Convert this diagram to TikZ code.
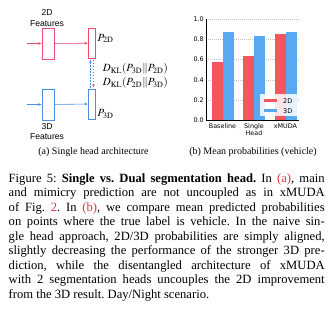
\documentclass[tikz,border=0pt]{standalone}
\usepackage{mathptmx}
\usepackage{fontspec}
\setmainfont{Liberation Serif}
\newfontfamily\diagfont{Liberation Sans}
\newfontfamily\plotfont{DejaVu Sans}
\usepackage{xcolor}
\usetikzlibrary{positioning, arrows.meta}

\definecolor{headRed}{HTML}{EE4B6A}
\definecolor{headBlue}{HTML}{4B8FE0}
\definecolor{barRed}{HTML}{F5555F}
\definecolor{barBlue}{HTML}{58A8F2}
\definecolor{linkRed}{HTML}{E0323F}
\definecolor{gridGray}{HTML}{C4C4C4}

\begin{document}
\begin{tikzpicture}[
  x=1pt, y=-1pt,
  feat/.style={draw, line width=0.7pt, fill=white, minimum width=12pt, minimum height=31pt, inner sep=0pt},
  headbox/.style={draw, line width=0.7pt, fill=white, minimum width=7.4pt, minimum height=30pt, inner sep=0pt},
  flow/.style={-{Latex[length=3.2pt,width=2.8pt]}, line width=0.6pt},
  mimic/.style={-{Latex[length=3pt,width=2.6pt]}, line width=0.6pt, dash pattern=on 1.5pt off 1.5pt, shorten >=1pt, shorten <=1pt},
  featlbl/.style={font=\diagfont\fontsize{8.6}{10.4}\selectfont, align=center, inner sep=0pt},
  mathlbl/.style={font=\fontsize{11}{12}\selectfont, inner sep=0pt},
  subcap/.style={font=\fontsize{10}{12}\selectfont, inner sep=0pt},
  ticklbl/.style={font=\plotfont\fontsize{6.4}{7.4}\selectfont, inner sep=0pt, align=center}
]
  \useasboundingbox (0,0) rectangle (333,321);

  % --- (a) cabeza unica ---
  \node[feat, draw=headRed] (f2d) at (48, 43.5) {};
  \node[headbox, draw=headRed] (p2d) at (92, 43.2) {};
  \node[feat, draw=headBlue] (f3d) at (48, 104.5) {};
  \node[headbox, draw=headBlue] (p3d) at (92, 104) {};
  \coordinate (in2d) at (26.5, 43.5);
  \coordinate (in3d) at (26.5, 104.5);

  \draw[flow, headRed] (in2d) -- (f2d);
  \draw[flow, headRed] (f2d) -- (p2d);
  \draw[flow, headBlue] (in3d) -- (f3d);
  \draw[flow, headBlue] (f3d) -- (p3d);

  \node[featlbl] (t2d) at (47, 18) {2D\\Features};
  \node[featlbl] (t3d) at (47, 131.7) {3D\\Features};

  \node[mathlbl, anchor=base west] (l2d) at (97.5, 41.2) {$P_{\mathrm{2D}}$};
  \node[mathlbl, anchor=base west] (l3d) at (97.5, 116.5) {$P_{\mathrm{3D}}$};

  % perdidas de mimetismo
  \draw[mimic, headBlue] ([xshift=-1.5pt]p3d.north) -- ([xshift=-1.5pt]p2d.south);
  \draw[mimic, headRed] ([xshift=1.5pt]p2d.south) -- ([xshift=1.5pt]p3d.north);
  \node[mathlbl, anchor=base west] (kl1) at (102.7, 72) {$D_{\mathrm{KL}}(P_{\mathrm{3D}}\|P_{\mathrm{2D}})$};
  \node[mathlbl, anchor=base west] (kl2) at (102.7, 85.5) {$D_{\mathrm{KL}}(P_{\mathrm{2D}}\|P_{\mathrm{3D}})$};

  \node[subcap] (capa) at (93.5, 152) {(a) Single head architecture};

  % --- (b) probabilidades medias ---
  \begin{scope}[shift={(206,120.5)}, y=101.5pt]
    \foreach \v in {0.2,0.4,0.6,0.8,1.0}
      \draw[gridGray, line width=0.4pt, dash pattern=on 1pt off 1pt] (0,\v) -- (93,\v);
    \foreach \c/\r/\b in {16.5/0.573/0.875, 48/0.64/0.83, 79.5/0.85/0.87} {
      \fill[barRed] (\c-11,0) rectangle (\c,\r);
      \fill[barBlue] (\c,0) rectangle (\c+11,\b);
    }
    \draw[line width=0.6pt] (0,1.0) -- (0,0) -- (93,0);
    \foreach \v in {0.0,0.2,0.4,0.6,0.8,1.0}
      \node[ticklbl, anchor=east] at ([xshift=-2pt]0,\v) {\v};
    \node[ticklbl, anchor=north] (xb) at ([yshift=-3pt]16.5,0) {Baseline};
    \node[ticklbl, anchor=north] (xs) at ([yshift=-3pt]48,0) {Single\\Head};
    \node[ticklbl, anchor=north] (xm) at ([yshift=-3pt]79.5,0) {xMUDA};

    % leyenda
    \fill[white, opacity=0.85] (54,0.26) rectangle (92,0.04);
    \fill[barRed] (58,0.21) rectangle (71,0.18);
    \fill[barBlue] (58,0.11) rectangle (71,0.08);
    \node[ticklbl, anchor=west] (lg2) at (77,0.195) {2D};
    \node[ticklbl, anchor=west] (lg3) at (77,0.095) {3D};
  \end{scope}

  \node[subcap] (capb) at (253, 152.5) {(b) Mean probabilities (vehicle)};

  % --- leyenda de la figura ---
  \node[anchor=base west, inner sep=0pt, text width=316pt, align=justify,
        font=\fontsize{12.6}{14.5}\selectfont] (fig) at (8.5, 182.5)
  {\frenchspacing\hyphenpenalty=10000\exhyphenpenalty=10000\tolerance=10000
   Figure 5: \textbf{Single vs. Dual segmentation head.} In \textcolor{linkRed}{(a)}, main\linebreak
   and mimicry prediction are not uncoupled as in xMUDA\linebreak
   of Fig. \textcolor{linkRed}{2}. In \textcolor{linkRed}{(b)}, we compare mean predicted probabilities\linebreak
   on points where the true label is vehicle. In the naive sin-\linebreak
   gle head approach, 2D/3D probabilities are simply aligned,\linebreak
   slightly decreasing the performance of the stronger 3D pre-\linebreak
   diction, while the disentangled architecture of xMUDA\linebreak
   with 2 segmentation heads uncouples the 2D improvement\linebreak
   from the 3D result. Day/Night scenario.};
\end{tikzpicture}
\end{document}
